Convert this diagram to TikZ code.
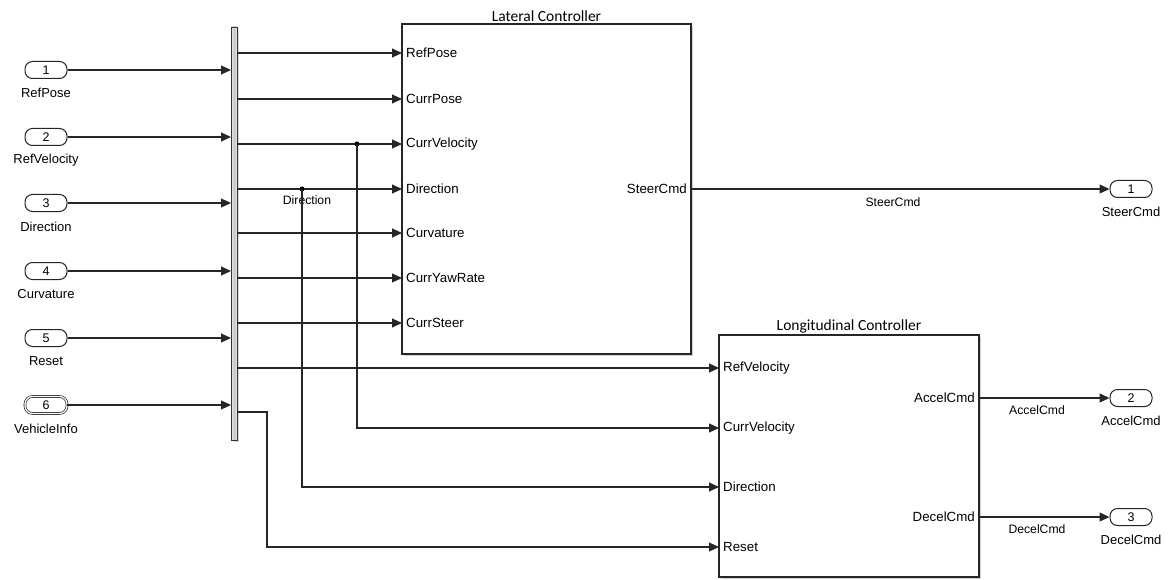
\documentclass[tikz,border=0pt]{standalone}
\usepackage{fontspec}
\setmainfont{Liberation Sans}
\newfontfamily\titlefont{Carlito}
\usetikzlibrary{arrows.meta,shadows}
\tikzset{
  wire/.style={line width=1.1pt, draw=black!85},
  sig/.style={wire, -{Triangle[length=10pt,width=9pt]}},
  inport/.style={draw=black!85, line width=1pt, rounded corners=7.5pt, minimum width=42pt, minimum height=17pt, inner sep=0pt, fill=white, font=\fontsize{12.5}{12.5}\selectfont},
  busport/.style={inport, double, double distance=1.2pt, line width=0.7pt},
  portlbl/.style={font=\fontsize{13}{13}\selectfont, inner sep=0pt},
  blklbl/.style={font=\fontsize{13.3}{13.3}\selectfont, inner sep=0pt},
  siglbl/.style={font=\fontsize{12.2}{12.2}\selectfont, inner sep=0pt},
  blk/.style={draw=black!85, line width=1.2pt, fill=white, inner sep=0pt, outer sep=0pt, anchor=north west,
    drop shadow={shadow xshift=2pt, shadow yshift=-2pt, opacity=0.35}},
  busbar/.style={draw=black!80, line width=0.9pt, inner sep=0pt, outer sep=0pt, top color=gray!15, bottom color=gray!15, middle color=gray!45, shading angle=90,
    drop shadow={shadow xshift=1.5pt, shadow yshift=-1.5pt, opacity=0.3}},
  titlelbl/.style={font=\titlefont\fontsize{15.5}{15.5}\selectfont, inner sep=0pt},
  junction/.style={circle, fill=black, inner sep=0pt, minimum size=5pt}
}
\begin{document}
\begin{tikzpicture}[x=1pt,y=-1pt]
\useasboundingbox (0,0) rectangle (1169,580);
% bus bar
\node[busbar, minimum width=6pt, minimum height=413pt] (bus) at (234,233.5) {};
% inports
\node[inport] (in1) at (46,70) {1};
\node[inport] (in2) at (46,137) {2};
\node[inport] (in3) at (46,203) {3};
\node[inport] (in4) at (46,271) {4};
\node[inport] (in5) at (46,338) {5};
\node[busport] (in6) at (46,405) {6};
\node[portlbl] (l1) at (46,93) {RefPose};
\node[portlbl] (l2) at (46,160) {RefVelocity};
\node[portlbl] (l3) at (46,227) {Direction};
\node[portlbl] (l4) at (46,294) {Curvature};
\node[portlbl] (l5) at (46,361) {Reset};
\node[portlbl] (l6) at (46,429) {VehicleInfo};
\foreach \i in {1,...,6} \draw[sig] (in\i.east) -- (bus.west |- in\i.east);
% lateral controller
\node[blk, minimum width=289pt, minimum height=330pt] (lat) at (402,24) {};
\node[titlelbl, anchor=south] (latt) at ([yshift=2pt]lat.north) {Lateral Controller};
\node[blklbl, anchor=west] (a1) at (406,53) {RefPose};
\node[blklbl, anchor=west] (a2) at (406,99) {CurrPose};
\node[blklbl, anchor=west] (a3) at (406,144) {CurrVelocity};
\node[blklbl, anchor=west] (a4) at (406,189) {Direction};
\node[blklbl, anchor=west] (a5) at (406,233) {Curvature};
\node[blklbl, anchor=west] (a6) at (406,278) {CurrYawRate};
\node[blklbl, anchor=west] (a7) at (406,323) {CurrSteer};
\node[blklbl, anchor=east] (sc) at (687,189) {SteerCmd};
% longitudinal controller
\node[blk, minimum width=260pt, minimum height=242pt] (lon) at (719,335) {};
\node[titlelbl, anchor=south] (lont) at ([yshift=2pt]lon.north) {Longitudinal Controller};
\node[blklbl, anchor=west] (b1) at (723,368) {RefVelocity};
\node[blklbl, anchor=west] (b2) at (723,428) {CurrVelocity};
\node[blklbl, anchor=west] (b3) at (723,487) {Direction};
\node[blklbl, anchor=west] (b4) at (723,547) {Reset};
\node[blklbl, anchor=east] (ac) at (975,398) {AccelCmd};
\node[blklbl, anchor=east] (dc) at (975,517) {DecelCmd};
% bus outputs to lateral controller
\foreach \i in {1,...,7} \draw[sig] (bus.east |- a\i.west) -- (lat.west |- a\i.west);
% bus output to longitudinal RefVelocity
\draw[sig] (bus.east |- b1.west) -- (lon.west |- b1.west);
% VehicleInfo to Reset
\coordinate (vb) at (267,412);
\draw[sig] (bus.east |- vb) -- (vb) |- (lon.west |- b4.west);
% branches
\node[siglbl] (dirlbl) at (307,200) {Direction};
\node[junction] (jv) at (357,144) {};
\node[junction] (jd) at (302,189) {};
\draw[sig] (jv.center) |- (lon.west |- b2.west);
\draw[sig] (jd.center) |- (lon.west |- b3.west);
% outports
\node[inport] (out1) at (1131,189) {1};
\node[inport] (out2) at (1131,398) {2};
\node[inport] (out3) at (1131,517) {3};
\node[portlbl] (o1) at (1131,212) {SteerCmd};
\node[portlbl] (o2) at (1131,421) {AccelCmd};
\node[portlbl] (o3) at (1131,540) {DecelCmd};
\draw[sig] (lat.east |- sc.east) -- (out1.west);
\draw[sig] (lon.east |- ac.east) -- (out2.west);
\draw[sig] (lon.east |- dc.east) -- (out3.west);
\node[siglbl] (s1) at (893,202) {SteerCmd};
\node[siglbl] (s2) at (1037,410) {AccelCmd};
\node[siglbl] (s3) at (1037,529) {DecelCmd};
\end{tikzpicture}
\end{document}
